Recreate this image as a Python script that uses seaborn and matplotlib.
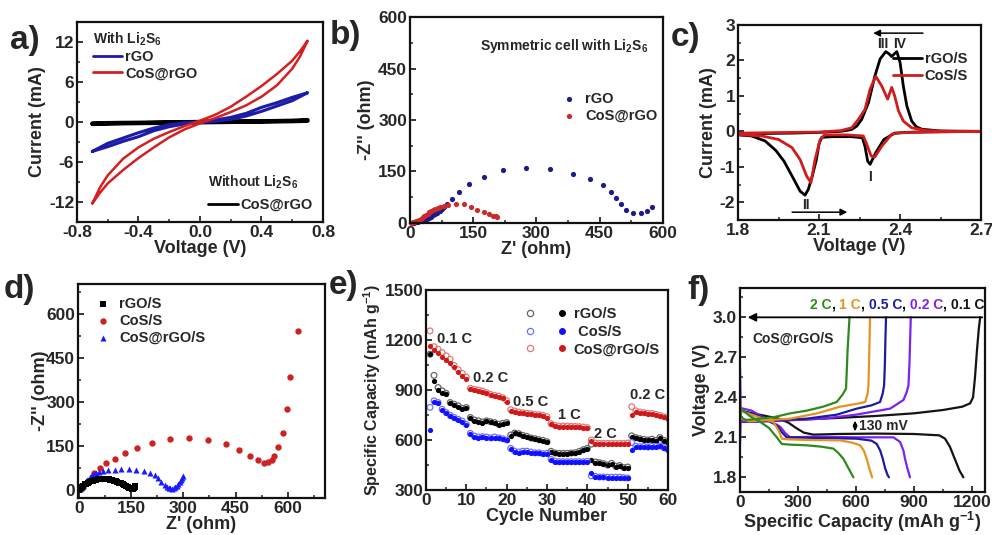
import numpy as np
import matplotlib
matplotlib.use("Agg")
import matplotlib.pyplot as plt
from matplotlib.legend_handler import HandlerTuple
from matplotlib.lines import Line2D
from matplotlib.ticker import MultipleLocator, FormatStrFormatter
import seaborn as sns

# ----- a) CV of symmetric cells -----
cv_v = [-0.7, -0.65, -0.6, -0.5, -0.4, -0.3, -0.2, -0.1, 0.0, 0.1, 0.2, 0.3, 0.4, 0.5, 0.6, 0.65, 0.7]
cos_up = [-12.2, -9.8, -8.0, -5.5, -3.8, -2.5, -1.5, -0.6, 0.2, 1.1, 2.3, 3.8, 5.4, 7.2, 9.2, 10.6, 12.2]
cos_dn = [-12.2, -10.6, -9.2, -7.2, -5.4, -3.8, -2.3, -1.1, -0.2, 0.6, 1.5, 2.5, 3.8, 5.5, 8.0, 9.8, 12.2]
rgo_up = [-4.4, -3.8, -3.2, -2.4, -1.6, -0.9, -0.4, -0.1, 0.05, 0.3, 0.7, 1.3, 2.2, 2.9, 3.7, 4.05, 4.4]
rgo_dn = [-4.4, -4.05, -3.7, -2.9, -2.2, -1.3, -0.7, -0.3, -0.05, 0.1, 0.4, 0.9, 1.6, 2.4, 3.2, 3.8, 4.4]
blank_up = [-0.2, -0.17, -0.15, -0.12, -0.1, -0.07, -0.04, -0.01, 0.02, 0.05, 0.08, 0.1, 0.13, 0.16, 0.2, 0.25, 0.3]
blank_dn = [-0.3, -0.27, -0.25, -0.2, -0.17, -0.14, -0.11, -0.08, -0.05, -0.02, 0.01, 0.04, 0.06, 0.09, 0.12, 0.15, 0.2]

# ----- b) EIS of symmetric cells -----
b_rgo_x = [5, 10, 15, 20, 25, 30, 35, 40, 45, 50, 55, 60, 65, 70, 75, 80, 87, 99, 116, 139, 175, 220,
           274, 333, 387, 428, 458, 476, 488, 501, 513, 530, 548, 562, 575]
b_rgo_y = [0.5, 1, 2, 3, 5, 7, 9, 12, 15, 18, 22, 26, 30, 35, 40, 46, 56, 70, 90, 114, 135, 153,
           160, 157, 144, 128, 110, 91, 73, 55, 39, 30, 30, 36, 48]
b_cos_x = [3, 6, 10, 14, 18, 22, 26, 30, 34, 38, 42, 46, 50, 55, 60, 66, 72, 80, 91, 109, 127, 145,
           160, 175, 187, 197, 203, 207]
b_cos_y = [0.5, 1.5, 3, 5, 7, 10, 13, 16, 19, 23, 27, 31, 34, 38, 42, 45, 48, 50, 52, 56, 54, 47,
           39, 32, 26, 21, 19, 18]

# ----- c) CV of Li-S cells -----
c_rgo_ox_v = [1.80, 1.90, 2.00, 2.10, 2.18, 2.22, 2.24, 2.258, 2.283, 2.307, 2.326, 2.347, 2.36, 2.369,
              2.378, 2.388, 2.40, 2.412, 2.425, 2.443, 2.46, 2.48, 2.55, 2.70]
c_rgo_ox_i = [-0.08, -0.06, -0.05, -0.03, 0.0, 0.05, 0.15, 0.34, 0.81, 1.57, 2.04, 2.25, 2.18, 2.11,
              2.18, 2.25, 1.94, 1.28, 0.72, 0.29, 0.13, 0.06, 0.01, 0.0]
c_rgo_red_v = [2.70, 2.55, 2.45, 2.38, 2.34, 2.31, 2.289, 2.28, 2.27, 2.26, 2.22, 2.15, 2.11, 2.10, 2.09,
               2.075, 2.06, 2.048, 2.03, 2.00, 1.97, 1.94, 1.90, 1.85, 1.80]
c_rgo_red_i = [0.0, -0.01, -0.02, -0.05, -0.23, -0.6, -0.93, -0.84, -0.42, -0.18, -0.15, -0.15,
               -0.17, -0.35, -0.8, -1.26, -1.64, -1.8, -1.69, -1.26, -0.84, -0.54, -0.27, -0.13, -0.1]
c_cos_ox_v = [1.80, 1.90, 2.00, 2.10, 2.18, 2.221, 2.246, 2.27, 2.289, 2.31, 2.332, 2.354, 2.369,
              2.38, 2.394, 2.412, 2.443, 2.50, 2.60, 2.70]
c_cos_ox_i = [-0.05, -0.04, -0.03, -0.02, 0.02, 0.1, 0.34, 0.62, 1.19, 1.55, 1.28, 0.91, 1.24,
              1.0, 0.58, 0.29, 0.1, 0.02, 0.0, 0.0]
c_cos_red_v = [2.70, 2.50, 2.40, 2.369, 2.332, 2.307, 2.293, 2.277, 2.264, 2.20, 2.12, 2.104, 2.085,
               2.07, 2.054, 2.03, 2.00, 1.95, 1.888, 1.80]
c_cos_red_i = [0.0, -0.02, -0.04, -0.08, -0.42, -0.72, -0.7, -0.37, -0.13, -0.1, -0.1, -0.23, -0.8,
               -1.45, -1.26, -0.8, -0.46, -0.23, -0.13, -0.09]

# ----- d) EIS of Li-S cells -----
d_rgo_x = [1, 3, 6, 9, 12, 16, 20, 25, 30, 35, 40, 45, 50, 55, 60, 65, 70, 75, 80, 85, 90, 95, 100,
           105, 110, 115, 120, 125, 130, 135, 140, 144, 148, 152, 155, 158, 160, 162]
d_rgo_y = [1, 4, 8, 12, 15, 19, 22, 25, 28, 30, 32, 33.5, 35, 36, 36.5, 37, 37, 37, 36.5, 36, 35, 34,
           32, 30, 28, 25.5, 23, 20, 17, 14, 11, 8, 6, 3, 3.5, 7, 10, 14]
d_cos_x = [11, 26, 43, 59, 79, 103, 131, 168, 211, 261, 317, 372, 422, 461, 491, 514, 533, 544, 554,
           561, 571, 585, 599, 606, 630]
d_cos_y = [11, 32, 57, 74, 91, 106, 126, 143, 160, 173, 176, 171, 157, 136, 117, 101, 93, 94, 102,
           116, 148, 195, 276, 384, 542]
d_cosrgo_x = [2, 5, 9, 16, 23, 31, 37, 43, 50, 58, 69, 83, 102, 122, 143, 165, 187, 203, 217, 227,
              237, 246, 252, 258, 262, 267, 272, 277, 281, 285, 289, 292, 296, 299]
d_cosrgo_y = [2, 6, 12, 24, 34, 44, 50, 55, 59, 63, 66, 68, 70, 73, 73, 70, 66, 59, 50, 40, 28, 17,
              12, 8, 6, 5, 6, 9, 14, 20, 27, 34, 41, 48]

# ----- e) rate capability -----
cycles = np.arange(1, 61)
rgo_dis = [1115, 955, 900, 885, 875, 820, 810, 800, 785, 790,
           730, 715, 710, 705, 712, 708, 700, 690, 695, 700,
           625, 640, 635, 625, 620, 610, 605, 600, 595, 588,
           530, 520, 518, 518, 518, 520, 522, 530, 540, 548,
           478, 465, 462, 455, 448, 458, 440, 445, 432, 435,
           620, 610, 605, 600, 598, 602, 595, 612, 595, 585]
rgo_chg = [1115, 988, 915, 895, 880, 825, 815, 805, 790, 795,
           735, 720, 715, 708, 715, 710, 705, 695, 700, 705,
           630, 642, 638, 628, 622, 612, 608, 602, 598, 590,
           532, 522, 520, 520, 520, 522, 524, 532, 542, 550,
           575, 468, 464, 458, 450, 460, 443, 447, 435, 438,
           625, 614, 608, 604, 600, 605, 598, 615, 598, 588]
cos_dis = [660, 830, 820, 780, 760, 744, 730, 720, 710, 690,
           635, 620, 615, 618, 615, 610, 615, 610, 605, 598,
           545, 530, 525, 530, 530, 525, 520, 520, 515, 518,
           480, 470, 468, 468, 468, 468, 468, 468, 468, 470,
           400, 380, 376, 376, 375, 375, 375, 375, 372, 370,
           540, 560, 558, 560, 556, 560, 560, 562, 550, 540]
cos_chg = [796, 835, 825, 785, 765, 748, 735, 724, 714, 694,
           640, 624, 618, 620, 618, 613, 618, 613, 608, 600,
           550, 533, 528, 533, 533, 528, 523, 523, 518, 520,
           484, 473, 470, 470, 470, 470, 470, 470, 470, 472,
           385, 382, 378, 378, 377, 377, 377, 377, 374, 372,
           585, 563, 560, 562, 558, 562, 562, 564, 553, 543]
cosrgo_dis = [1164, 1140, 1120, 1100, 1080, 1060, 1036, 1010, 984, 966,
              904, 900, 896, 890, 880, 870, 864, 860, 850, 830,
              776, 770, 764, 760, 756, 754, 750, 748, 744, 734,
              694, 684, 680, 680, 680, 678, 678, 676, 674, 670,
              595, 578, 576, 576, 576, 576, 576, 576, 576, 578,
              748, 770, 764, 760, 756, 756, 750, 744, 736, 728]
cosrgo_chg = [1255, 1160, 1145, 1125, 1105, 1085, 1048, 1022, 1000, 978,
              910, 904, 900, 894, 884, 874, 868, 864, 854, 836,
              782, 774, 768, 764, 760, 758, 754, 752, 748, 740,
              698, 688, 684, 684, 684, 682, 682, 680, 678, 674,
              600, 582, 580, 580, 580, 580, 580, 580, 580, 582,
              800, 775, 768, 764, 760, 760, 754, 748, 740, 732]
rate_labels = ["0.1 C", "0.2 C", "0.5 C", "1 C", "2 C", "0.2 C"]
rate_label_x = [7, 16, 26, 35.5, 44.5, 55]
rate_label_y = [1206, 970, 828, 750, 636, 870]

# ----- f) charge/discharge profiles of CoS@rGO/S -----
f_rates = ["0.1 C", "0.2 C", "0.5 C", "1 C", "2 C"]
f_dis_cap = {
    "0.1 C": [0, 100, 200, 250, 290, 330, 380, 500, 700, 900, 1030, 1060, 1085, 1110, 1135, 1155],
    "0.2 C": [0, 3, 60, 120, 207, 235, 259, 400, 600, 793, 828, 845, 853, 865, 879],
    "0.5 C": [0, 100, 190, 215, 241, 400, 603, 680, 707, 725, 738, 750, 762, 770],
    "1 C": [0, 100, 172, 200, 216, 241, 350, 517, 580, 621, 640, 655, 668, 683],
    "2 C": [0, 50, 100, 150, 190, 216, 260, 345, 420, 483, 510, 534, 560, 586],
}
f_dis_v = {
    "0.1 C": [2.30, 2.27, 2.24, 2.21, 2.17, 2.135, 2.12, 2.125, 2.128, 2.125, 2.115, 2.09, 2.03, 1.94, 1.85, 1.80],
    "0.2 C": [2.62, 2.32, 2.30, 2.25, 2.18, 2.13, 2.10, 2.105, 2.10, 2.10, 2.065, 2.0, 1.94, 1.87, 1.80],
    "0.5 C": [2.30, 2.26, 2.19, 2.14, 2.10, 2.095, 2.09, 2.075, 2.05, 2.0, 1.94, 1.87, 1.82, 1.80],
    "1 C": [2.30, 2.25, 2.215, 2.15, 2.09, 2.085, 2.08, 2.077, 2.06, 2.04, 2.0, 1.94, 1.87, 1.80],
    "2 C": [2.32, 2.26, 2.22, 2.17, 2.10, 2.05, 2.045, 2.04, 2.03, 2.015, 1.98, 1.94, 1.87, 1.80],
}
f_chg_cap = {
    "0.1 C": [0, 5, 20, 100, 200, 350, 500, 700, 900, 1050, 1150, 1190, 1205, 1215, 1225, 1235, 1242],
    "0.2 C": [0, 3, 50, 431, 600, 776, 845, 862, 871, 876, 880, 883],
    "0.5 C": [0, 5, 50, 345, 500, 603, 680, 724, 738, 745, 749, 752, 755],
    "1 C": [0, 5, 50, 259, 400, 517, 600, 647, 660, 664, 667, 670, 672],
    "2 C": [0, 5, 30, 100, 172, 260, 345, 430, 500, 530, 548, 552, 556, 562, 566],
}
f_chg_v = {
    "0.1 C": [2.28, 2.22, 2.215, 2.22, 2.225, 2.235, 2.245, 2.26, 2.28, 2.305, 2.33, 2.355, 2.40, 2.55, 2.75, 2.92, 3.0],
    "0.2 C": [2.05, 2.22, 2.215, 2.24, 2.27, 2.315, 2.38, 2.44, 2.49, 2.65, 2.85, 3.0],
    "0.5 C": [2.30, 2.24, 2.22, 2.24, 2.27, 2.315, 2.34, 2.365, 2.43, 2.49, 2.65, 2.85, 3.0],
    "1 C": [2.36, 2.24, 2.22, 2.24, 2.28, 2.33, 2.35, 2.365, 2.43, 2.49, 2.65, 2.85, 3.0],
    "2 C": [2.34, 2.25, 2.23, 2.24, 2.25, 2.28, 2.30, 2.33, 2.365, 2.42, 2.465, 2.6, 2.75, 2.9, 3.0],
}
f_colors = {"0.1 C": "#141414", "0.2 C": "#7b22f0", "0.5 C": "#1c1c9c", "1 C": "#e8921e", "2 C": "#2f8a1e"}

# ----- style -----
sns.set_theme(style="ticks")
plt.rcParams["font.family"] = ["Liberation Sans", "DejaVu Sans"]
plt.rcParams.update({
    "font.weight": "bold",
    "axes.labelweight": "bold",
    "axes.linewidth": 1.6,
    "axes.edgecolor": "#111111",
    "xtick.direction": "in",
    "ytick.direction": "in",
    "xtick.major.size": 4,
    "ytick.major.size": 4,
    "xtick.minor.size": 2.5,
    "ytick.minor.size": 2.5,
    "xtick.major.width": 1.3,
    "ytick.major.width": 1.3,
    "xtick.minor.width": 1.1,
    "ytick.minor.width": 1.1,
    "xtick.labelsize": 12.5,
    "ytick.labelsize": 12.5,
    "axes.labelsize": 13,
    "axes.unicode_minus": False,
    "mathtext.fontset": "custom",
    "mathtext.rm": "Liberation Sans:bold",
    "mathtext.it": "Liberation Sans:bold",
    "mathtext.bf": "Liberation Sans:bold",
    "mathtext.default": "rm",
    "legend.fontsize": 10.5,
})

RED = "#d42020"
BLUE = "#1c1ca8"


def style_axis(ax, xmaj, xmin, ymaj, ymin, xfmt=None, yfmt=None):
    ax.xaxis.set_major_locator(MultipleLocator(xmaj))
    ax.xaxis.set_minor_locator(MultipleLocator(xmin))
    ax.yaxis.set_major_locator(MultipleLocator(ymaj))
    ax.yaxis.set_minor_locator(MultipleLocator(ymin))
    if xfmt:
        ax.xaxis.set_major_formatter(FormatStrFormatter(xfmt))
    if yfmt:
        ax.yaxis.set_major_formatter(FormatStrFormatter(yfmt))
    ax.tick_params(which="both", direction="in", top=False, right=False, pad=2)


fig = plt.figure(figsize=(9.92, 5.35), dpi=100)
ax_a = fig.add_axes([0.0776, 0.585, 0.248, 0.3738])
ax_b = fig.add_axes([0.4133, 0.5832, 0.255, 0.385])
ax_c = fig.add_axes([0.744, 0.5888, 0.245, 0.3645])
ax_d = fig.add_axes([0.0786, 0.0692, 0.249, 0.40])
ax_e = fig.add_axes([0.4294, 0.0841, 0.244, 0.3738])
ax_f = fig.add_axes([0.746, 0.0804, 0.247, 0.3813])

# ---------------- a ----------------
loop_v = cv_v + cv_v[::-1]
sns.lineplot(x=loop_v, y=blank_up + blank_dn[::-1], sort=False, estimator=None, color="black", lw=3, ax=ax_a)
sns.lineplot(x=loop_v, y=rgo_up + rgo_dn[::-1], sort=False, estimator=None, color=BLUE, lw=2.2, ax=ax_a)
sns.lineplot(x=loop_v, y=cos_up + cos_dn[::-1], sort=False, estimator=None, color=RED, lw=1.8, ax=ax_a)
ax_a.set_xlim(-0.8, 0.8)
ax_a.set_ylim(-15, 15)
style_axis(ax_a, 0.4, 0.2, 6, 3, xfmt="%.1f", yfmt="%d")
ax_a.set_xlabel("Voltage (V)", labelpad=0)
ax_a.set_ylabel("Current (mA)", labelpad=2)
h_with = [Line2D([], [], color=BLUE, lw=2), Line2D([], [], color=RED, lw=2)]
leg1 = ax_a.legend(h_with, ["rGO", "CoS@rGO"], loc="upper left", bbox_to_anchor=(0.03, 1.0),
                   frameon=False, title="With Li$_2$S$_6$", alignment="left", handlelength=2.0,
                   handletextpad=0.2, labelspacing=0.15, borderaxespad=0.2,
                   title_fontproperties={"weight": "bold", "size": 10})
ax_a.add_artist(leg1)
ax_a.legend([Line2D([], [], color="black", lw=2)], ["CoS@rGO"], loc="lower right",
            frameon=False, title="Without Li$_2$S$_6$", alignment="left", handlelength=2.0,
            handletextpad=0.2, borderaxespad=0.3, title_fontproperties={"weight": "bold", "size": 10})

# ---------------- b ----------------
sns.scatterplot(x=b_rgo_x, y=b_rgo_y, color="#1a1a8c", s=14, linewidth=0, ax=ax_b, label="rGO", clip_on=False)
sns.scatterplot(x=b_cos_x, y=b_cos_y, color="#cc2a2a", s=14, linewidth=0, ax=ax_b, label="CoS@rGO", clip_on=False)
ax_b.set_xlim(0, 600)
ax_b.set_ylim(0, 600)
style_axis(ax_b, 150, 75, 150, 75)
ax_b.set_xlabel("Z' (ohm)", labelpad=0)
ax_b.set_ylabel("-Z'' (ohm)", labelpad=2)
ax_b.text(0.94, 0.86, "Symmetric cell with Li$_2$S$_6$", transform=ax_b.transAxes, ha="right",
          va="center", fontsize=10, fontweight="bold")
ax_b.legend(loc="center left", bbox_to_anchor=(0.52, 0.56), frameon=False, handletextpad=0.1,
            labelspacing=0.2, markerscale=1.0)

# ---------------- c ----------------
sns.lineplot(x=c_rgo_ox_v + c_rgo_red_v, y=c_rgo_ox_i + c_rgo_red_i, sort=False, estimator=None,
             color="black", lw=2, ax=ax_c)
sns.lineplot(x=c_cos_ox_v + c_cos_red_v, y=c_cos_ox_i + c_cos_red_i, sort=False, estimator=None,
             color="#d01c1c", lw=2, ax=ax_c)
ax_c.set_xlim(1.8, 2.7)
ax_c.set_ylim(-2.5, 3)
style_axis(ax_c, 0.3, 0.15, 1, 0.5, xfmt="%.1f", yfmt="%d")
ax_c.set_xlabel("Voltage (V)", labelpad=0)
ax_c.set_ylabel("Current (mA)", labelpad=2)
ax_c.legend([Line2D([], [], color="black", lw=2), Line2D([], [], color="#d01c1c", lw=2)],
            ["rGO/S", "CoS/S"], loc="upper right", bbox_to_anchor=(1.0, 0.93), frameon=False,
            handlelength=2.0, handletextpad=0.2, labelspacing=0.2)
arrow_kw = dict(arrowstyle="-|>", color="black", lw=1.1, mutation_scale=10)
ax_c.annotate("", xy=(2.29, 2.77), xytext=(2.495, 2.77), arrowprops=arrow_kw)
ax_c.annotate("", xy=(2.215, -2.28), xytext=(1.99, -2.28), arrowprops=arrow_kw)
for txt, x, y in [("III", 2.335, 2.46), ("IV", 2.40, 2.46), ("I", 2.289, -1.3), ("II", 2.05, -2.07)]:
    ax_c.text(x, y, txt, ha="center", va="center", fontsize=10, fontweight="bold")

# ---------------- d ----------------
sns.scatterplot(x=d_cos_x, y=d_cos_y, color="#cc2222", marker="o", s=21, linewidth=0, ax=ax_d, label="CoS/S")
sns.scatterplot(x=d_cosrgo_x, y=d_cosrgo_y, color="#1a1aff", marker="^", s=19, linewidth=0, ax=ax_d,
                label="CoS@rGO/S")
sns.scatterplot(x=d_rgo_x, y=d_rgo_y, color="black", marker="s", s=13, linewidth=0, ax=ax_d, label="rGO/S")
ax_d.set_xlim(-3, 707)
ax_d.set_ylim(-27, 702)
style_axis(ax_d, 150, 75, 150, 75)
ax_d.set_xlabel("Z' (ohm)", labelpad=0)
ax_d.set_ylabel("-Z'' (ohm)", labelpad=-2)
hd, ld = ax_d.get_legend_handles_labels()
order = [2, 0, 1]
ax_d.legend([hd[i] for i in order], [ld[i] for i in order], loc="upper left", bbox_to_anchor=(-0.01, 1.0),
            frameon=False, handletextpad=0.1, labelspacing=0.2)

# ---------------- e ----------------
series_e = [("rGO/S", rgo_chg, rgo_dis, "#666666", "black"),
            (" CoS/S", cos_chg, cos_dis, "#7070ff", "#1010ff"),
            ("CoS@rGO/S", cosrgo_chg, cosrgo_dis, "#e07a7a", "#d01818")]
handles_e = []
for name, chg, dis, light, dark in series_e:
    sns.scatterplot(x=cycles, y=chg, ax=ax_e, marker="o", s=17, facecolor="none", edgecolor=light,
                    linewidth=0.9)
    sns.scatterplot(x=cycles, y=dis, ax=ax_e, marker="o", s=14, color=dark, linewidth=0)
    handles_e.append((Line2D([], [], ls="", marker="o", mfc="none", mec=light, ms=4.5, mew=0.9),
                      Line2D([], [], ls="", marker="o", color=dark, ms=4)))
ax_e.set_xlim(0, 60)
ax_e.set_ylim(300, 1500)
style_axis(ax_e, 10, 5, 300, 150)
ax_e.set_xlabel("Cycle Number", labelpad=0)
ax_e.set_ylabel("Specific Capacity (mAh g$^{-1}$)", labelpad=1, fontsize=11.5)
ax_e.legend(handles_e, [s[0] for s in series_e], handler_map={tuple: HandlerTuple(ndivide=None, pad=1.2)},
            loc="upper right", bbox_to_anchor=(1.02, 0.98), frameon=False, handlelength=3.2,
            handletextpad=0.3, labelspacing=0.25, fontsize=10.5)
for txt, x, y in zip(rate_labels, rate_label_x, rate_label_y):
    ax_e.text(x, y, txt, ha="center", va="center", fontsize=10.5, fontweight="bold")

# ---------------- f ----------------
for r in f_rates:
    sns.lineplot(x=f_dis_cap[r], y=f_dis_v[r], sort=False, estimator=None, color=f_colors[r], lw=1.6, ax=ax_f)
    sns.lineplot(x=f_chg_cap[r], y=f_chg_v[r], sort=False, estimator=None, color=f_colors[r], lw=1.6, ax=ax_f)
ax_f.set_xlim(0, 1267)
ax_f.set_ylim(1.69, 3.22)
style_axis(ax_f, 300, 150, 0.3, 0.15, yfmt="%.1f")
ax_f.set_xlabel("Specific Capacity (mAh g$^{-1}$)", labelpad=0)
ax_f.set_ylabel("Voltage (V)", labelpad=2)
ax_f.annotate("", xy=(25, 3.0), xytext=(1267, 3.0),
              arrowprops=dict(arrowstyle="-|>", color="black", lw=1.3, mutation_scale=12))
parts = [("2 C", f_colors["2 C"]), (", ", "black"), ("1 C", f_colors["1 C"]), (", ", "black"),
         ("0.5 C", f_colors["0.5 C"]), (", ", "black"), ("0.2 C", f_colors["0.2 C"]), (", ", "black"),
         ("0.1 C", f_colors["0.1 C"])]
t = ax_f.text(362, 3.04, parts[0][0], color=parts[0][1], fontsize=10, fontweight="bold", va="bottom")
for s, c in parts[1:]:
    t = ax_f.annotate(s, xy=(1, 0), xycoords=t, va="bottom", color=c, fontsize=10, fontweight="bold")
ax_f.text(62, 2.84, "CoS@rGO/S", fontsize=10, fontweight="bold", va="center")
ax_f.annotate("", xy=(595, 2.245), xytext=(595, 2.125),
              arrowprops=dict(arrowstyle="<|-|>", color="black", lw=1.0, mutation_scale=6))
ax_f.text(615, 2.185, "130 mV", fontsize=10, fontweight="bold", va="center")

# panel labels
for lab, x, y in [("a)", 0.010, 0.925), ("b)", 0.332, 0.933), ("c)", 0.676, 0.929),
                  ("d)", 0.004, 0.458), ("e)", 0.331, 0.466), ("f)", 0.693, 0.457)]:
    fig.text(x, y, lab, fontsize=24, fontweight="bold", va="center", ha="left")

for ax in [ax_a, ax_b, ax_c, ax_d, ax_e, ax_f]:
    for sp in ax.spines.values():
        sp.set_visible(True)

fig.savefig("out.png", dpi=100, facecolor="white")
